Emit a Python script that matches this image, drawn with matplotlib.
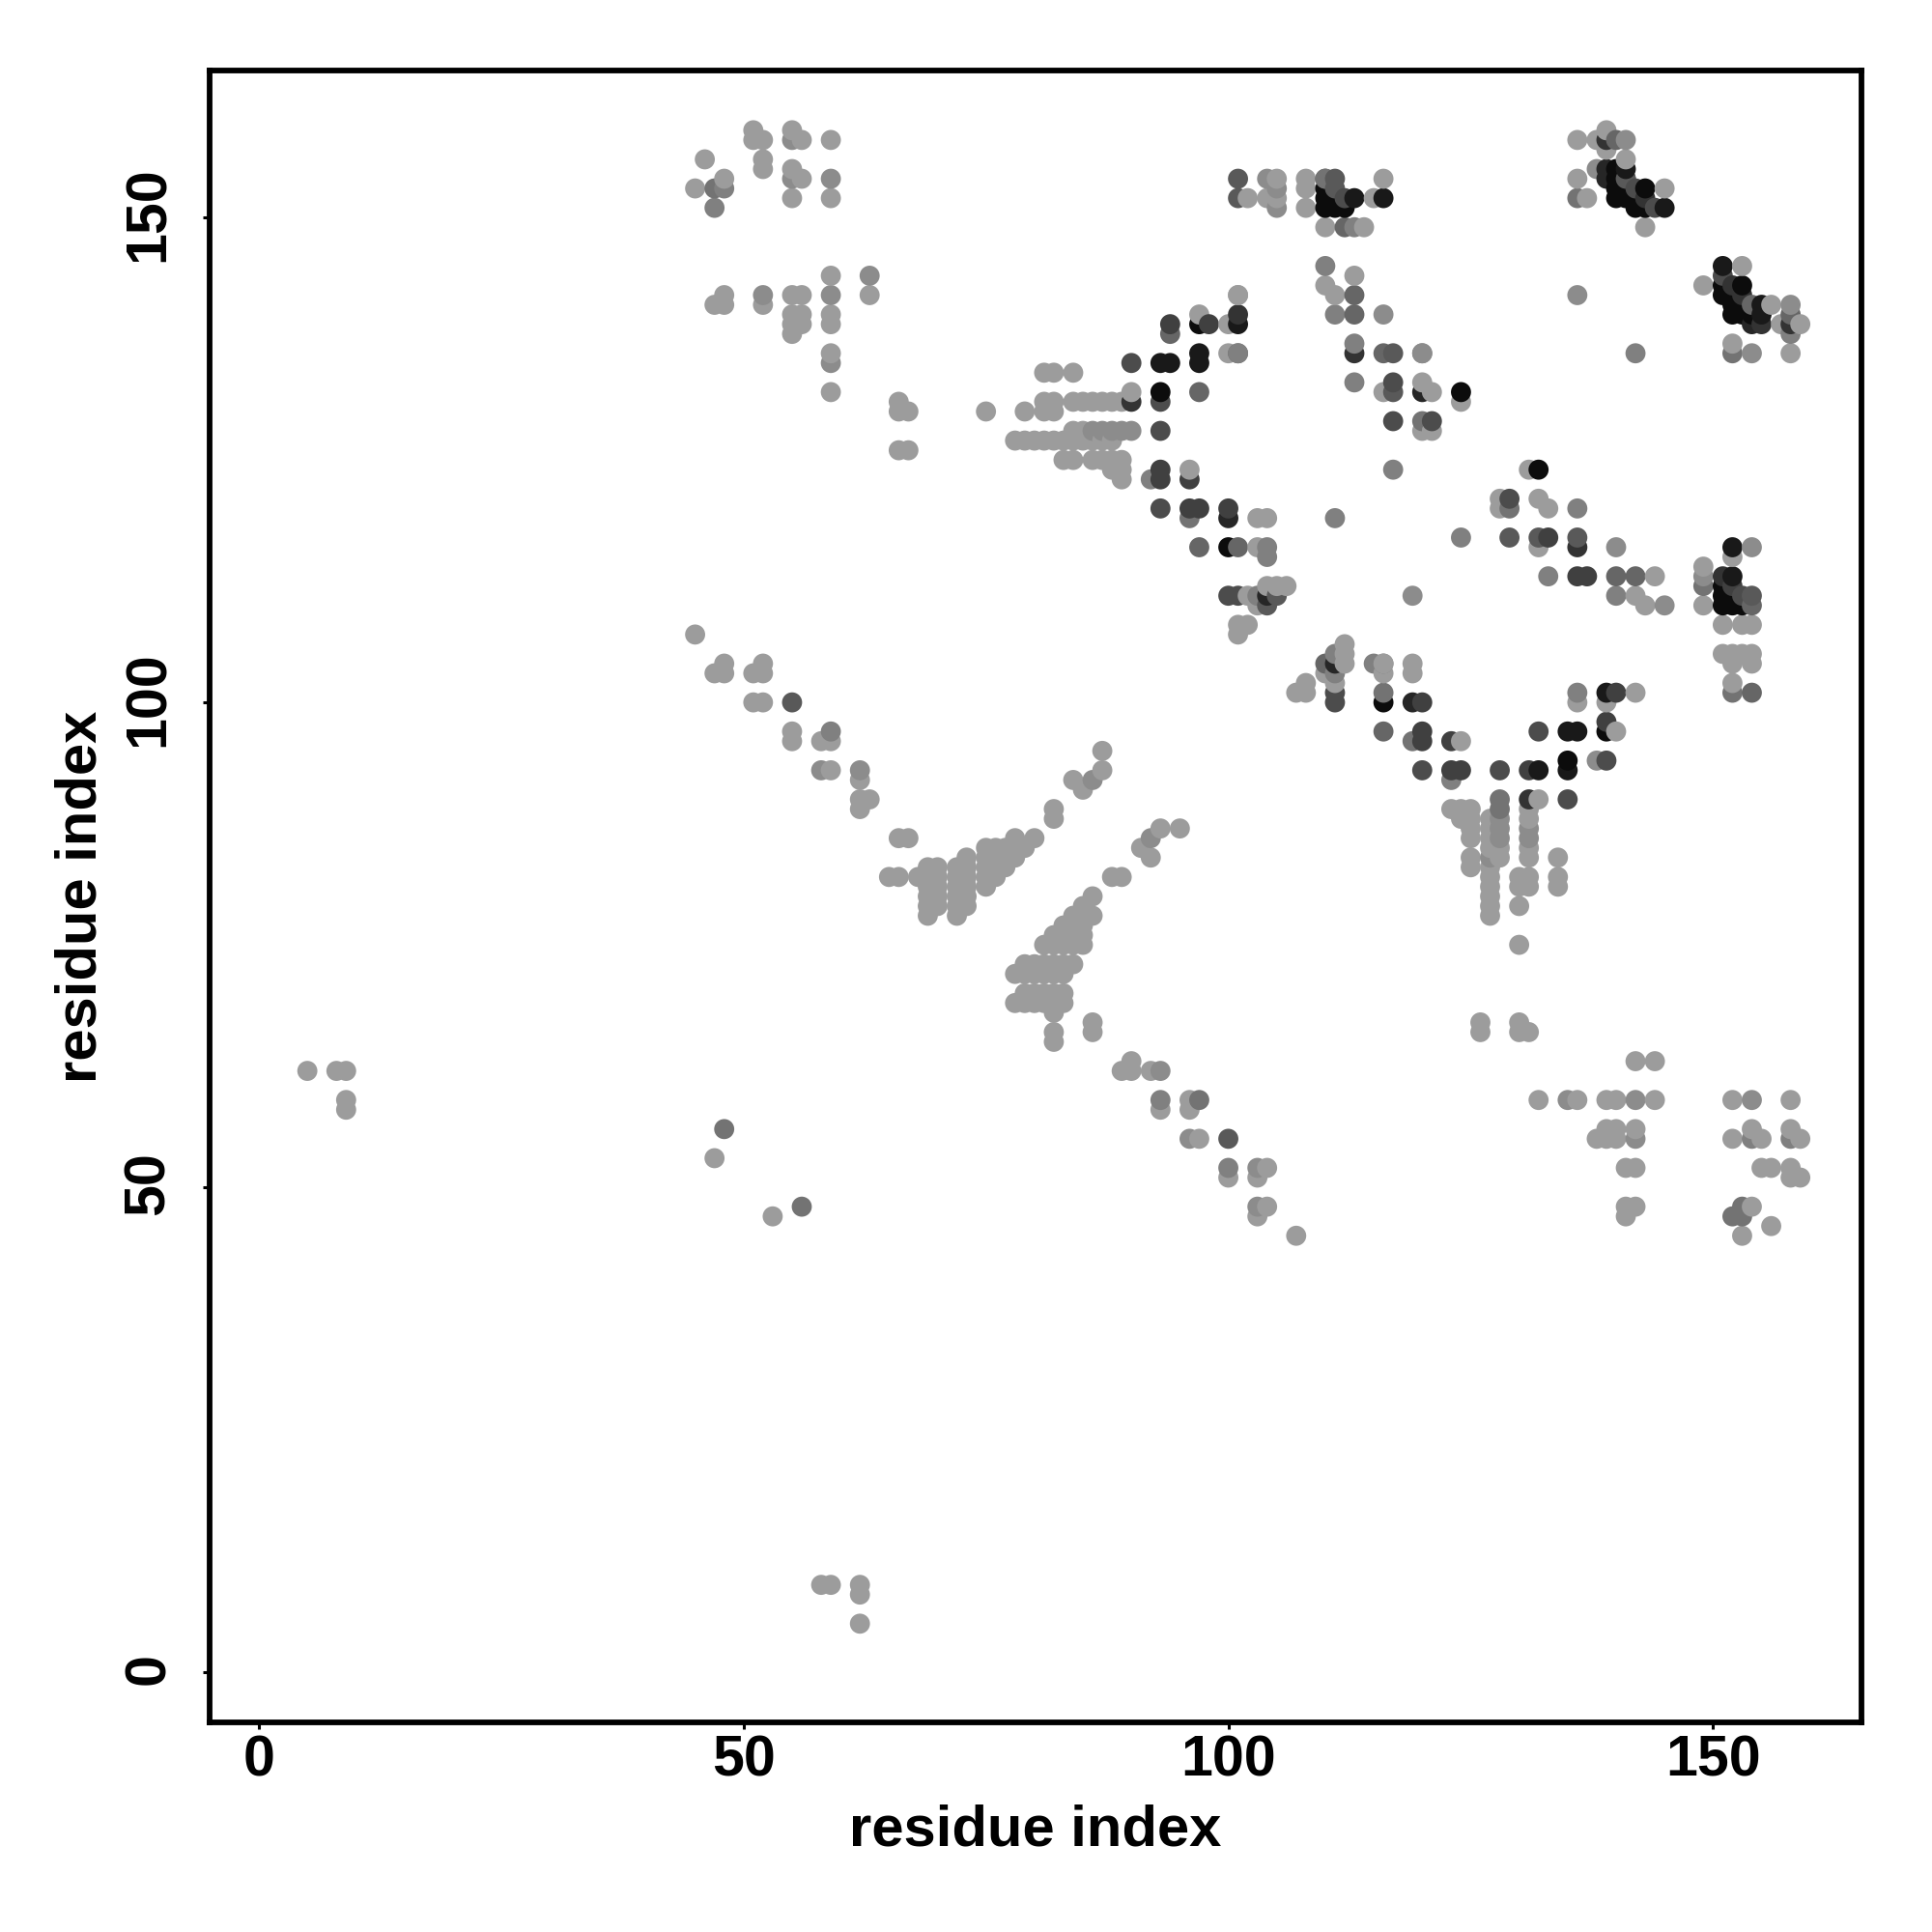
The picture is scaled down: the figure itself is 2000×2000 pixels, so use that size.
import numpy as np
import matplotlib
matplotlib.use('Agg')
import matplotlib.pyplot as plt
from matplotlib.transforms import ScaledTranslation

plt.rcParams['font.family'] = ['Liberation Sans', 'DejaVu Sans']

# contacts (residue i, residue j), grouped by grey level of the point
gray_levels = [0.05, 0.1, 0.15, 0.2, 0.25, 0.3, 0.35, 0.4, 0.45, 0.5, 0.55, 0.61]

g05 = [(110,153),(110,152),(111,152),(110,151),(111,151),(112,151),(140,155),(140,154),(140,153),(141,153),
       (143,153),(140,152),(141,152),(142,152),(142,151),(143,151),(151,143),(153,143),(151,142),(152,142),
       (152,141),(153,141),(152,140),(153,140),(154,140),(151,112),(151,111),(152,111),(151,110),(152,110),
       (153,110),(124,132),(132,124),(93,132),(100,116),(116,100),(97,139),(135,94),(139,97)]
g10 = [(93,135),(94,135),(97,136),(97,135),(101,139),(113,152),(116,152),(145,151),(141,155),(151,145),
       (155,141),(155,140),(152,116),(152,113),(132,93),(135,93),(135,97),(136,97),(139,101),(141,154)]
g15 = [(104,111),(111,104),(119,100),(100,119),(139,155),(139,154),(120,132),(154,139)]
g20 = [(90,131),(139,158),(143,152),(152,143),(153,142),(155,139),(158,139),(151,113),(136,116),(131,90),
       (113,136),(101,140)]
g25 = [(94,139),(98,139),(93,124),(93,123),(96,123),(100,120),(152,112),(133,117),(137,113),(136,113),
       (120,100),(120,97),(120,96),(123,96),(124,93),(123,93),(139,98),(140,101),(131,93),(97,120),(96,120)]
g30 = [(90,135),(93,131),(93,128),(93,120),(100,111),(101,111),(117,133),(117,129),(121,129),(129,121),
       (144,151),(151,144),(153,111),(111,101),(111,100),(120,93),(128,93),(132,97),(139,94),(135,90),
       (112,152),(142,153)]
g35 = [(105,111),(104,110),(110,154),(111,153),(111,154),(117,136),(117,132),(141,154),(129,117),(132,117),
       (136,117),(154,111),(55,100),(100,55),(101,152),(101,154)]
g40 = [(101,136),(97,116),(101,116),(140,158),(112,149),(113,142),(113,140),(154,141),(158,140),(140,113),
       (142,113),(154,110),(116,136),(116,97),(154,101),(110,104),(97,132),(94,138)]
g45 = [(96,119),(120,129),(110,154),(152,136),(136,152),(152,101),(116,101),(119,96),(47,153),(48,56),
       (56,48),(153,48),(152,47),(153,47),(97,59),(129,120),(149,112),(128,90),(128,89)]
g50 = [(92,123),(111,119),(104,116),(104,115),(103,111),(111,140),(113,149),(113,137),(113,133),(120,136),
       (101,136),(117,124),(110,145),(142,136),(136,120),(124,117),(133,113),(140,111),(158,138),(115,104),
       (116,104),(111,105),(111,103),(136,101),(123,92),(47,151),(48,153),(59,97),(93,59),(100,52),(154,55),
       (158,55)]
g55 = [(55,158),(55,154),(59,154),(52,142),(59,142),(59,135),(63,144),(116,140),(120,136),(138,155),(136,142),
       (141,158),(158,141),(140,116),(154,116),(145,110),(149,113),(119,111),(138,94),(86,92),(92,86),(93,62),
       (135,59),(142,59),(154,59),(103,52),(103,48),(96,55),(58,93),(62,93),(127,84),(128,88),(128,87),(128,86),
       (131,87),(131,86),(105,153),(104,154),(105,151),(88,128),(89,128),(90,128),(86,128),(87,128),(142,55),
       (154,136)]
g60 = [(51,159),(51,158),(52,158),(55,159),(56,158),(59,158),(46,156),(52,156),(52,155),(55,155),(56,154),
       (45,153),(48,154),(55,152),(59,152),(59,144),(48,142),(47,141),(48,141),(52,141),(55,142),(56,142),
       (63,142),(55,140),(56,140),(55,139),(56,139),(55,138),(59,140),(59,139),(59,136),(59,132),(66,131),
       (66,130),(67,130),(75,130),(79,130),(66,126),(67,126),
       (81,134),(82,134),(84,134),(90,132),(81,131),(82,131),(84,131),(85,131),(86,131),(87,131),(88,131),(89,131),
       (81,130),(82,130),(84,128),(85,128),(78,127),(79,127),(80,127),(81,127),(82,127),(83,127),(84,127),(85,127),
       (86,127),(87,127),(88,127),(83,125),(84,125),(86,125),(87,125),(88,125),(89,125),(88,124),(89,124),(89,123),
       (97,140),(100,139),(100,136),(101,142),(96,124),(103,119),(104,119),(103,116),(104,112),(105,112),(106,112),
       (102,111),(103,110),(101,108),(102,108),(101,107),
       (108,154),(108,153),(108,151),(105,154),(104,152),(105,152),(102,152),(116,154),(115,152),(110,149),(114,149),
       (113,144),(110,143),(111,142),(101,142),(116,132),(120,133),(121,132),(124,131),(131,124),(120,128),(121,128),
       (116,104),(136,158),(138,158),(139,159),(139,157),(141,156),(136,154),(145,153),(137,152),(143,149),(153,145),
       (149,143),(156,141),(157,139),(159,139),(152,137),(158,136),(128,121),(128,120),(132,121),(133,120),(152,115),
       (149,114),(144,113),(142,111),(143,110),(149,110),(151,108),(153,108),(154,108),(151,105),(152,105),(153,105),
       (154,105),(152,104),(154,104),(152,102),(112,106),(112,105),(112,104),(110,103),(111,102),(108,102),(107,101),
       (108,101),(116,103),(119,104),(119,103),(124,96),(123,89),(124,89),(125,89),(124,88),(125,88),(125,87),(125,86),
       (125,84),(125,83),(127,88),(127,87),(127,86),(127,85),(127,83),(127,82),(127,81),(127,80),(127,79),(127,78),
       (128,85),(128,84),(131,89),(131,88),(131,85),(131,84),(134,84),(130,82),(131,82),(134,82),(130,81),(131,81),
       (134,81),(130,79),(130,75),(132,90),(132,116),(136,100),(139,100),(140,97),(142,101),
       (126,67),(126,66),(130,67),(130,66),(131,66),(142,63),(144,63),(132,59),(136,59),(139,59),(140,59),(144,59),
       (152,59),(158,59),(139,56),(140,56),(142,56),(154,56),(158,56),(138,55),(139,55),(140,55),(152,55),(155,55),
       (159,55),(141,52),(142,52),(155,52),(156,52),(158,52),(158,51),(159,51),(141,48),(142,48),(154,48),(141,47),
       (156,46),(153,45),
       (87,95),(87,93),(84,92),(85,91),(82,89),(82,88),(93,87),(95,87),(91,85),(92,84),(88,82),(89,82),(86,80),(85,79),
       (84,78),(85,78),(86,78),(83,77),(84,77),(85,77),(82,76),(83,76),(84,76),(85,76),(81,75),(82,75),(83,75),(84,75),
       (85,75),(79,73),(80,73),(81,73),(82,73),(83,73),(84,73),(78,72),(79,72),(80,72),(81,72),(82,72),(83,72),
       (79,70),(80,70),(81,70),(82,70),(83,70),(78,69),(79,69),(80,69),(81,69),(82,69),(83,69),(82,68),(82,66),(82,65),
       (86,67),(86,66),(66,86),(67,86),(65,82),(66,82),(68,82),
       (69,83),(70,83),(69,82),(70,82),(69,81),(70,81),(69,80),(70,80),(69,79),(70,79),(69,78),
       (72,83),(72,82),(72,81),(72,80),(72,79),(72,78),(73,84),(73,83),(73,82),(73,81),(73,80),(73,79),
       (75,85),(75,84),(75,83),(75,82),(75,81),(76,85),(76,84),(76,83),(76,82),(77,85),(77,84),(77,83),
       (78,86),(78,85),(78,84),(79,85),(80,86),
       (45,107),(48,104),(52,104),(47,103),(48,103),(51,103),(52,103),(51,100),(52,100),(55,97),(55,96),(58,96),(59,96),
       (59,93),(62,92),(62,90),(63,90),(62,89),
       (90,63),(89,62),(90,62),(92,62),(93,58),(96,59),(97,55),(96,58),(100,51),(104,52),(103,51),(104,48),(103,47),
       (107,45),(5,62),(8,62),(9,62),(9,59),(9,58),(47,53),(53,47),(58,9),(59,9),(62,9),(62,8),(62,5)]

tick_values = [0, 50, 100, 150]
axis_label = 'residue index'

groups = [g05, g10, g15, g20, g25, g30, g35, g40, g45, g50, g55, g60]
x = np.concatenate([[p[0] for p in g] for g in groups])
y = np.concatenate([[p[1] for p in g] for g in groups])
shade = np.concatenate([[lev] * len(g) for lev, g in zip(gray_levels, groups)])

# drawn in residue order, later residues sit on top
order = np.lexsort((y, x))

fig = plt.figure(figsize=(10, 10), dpi=200)
ax = fig.add_axes([0.1084, 0.1084, 0.8553, 0.8553])
ax.scatter(x[order], y[order], c=shade[order], cmap='gray', vmin=0, vmax=1, s=56, linewidths=0)

ax.set_xlim(-5.1, 165.35)
ax.set_ylim(-5.2, 165.2)
ax.set_xticks(tick_values)
ax.set_yticks(tick_values)
ax.tick_params(axis='both', length=2.5, width=1.1, labelsize=21.3)
ax.tick_params(axis='x', pad=2)
ax.tick_params(axis='y', pad=10)
for lab in ax.get_xticklabels():
    lab.set_fontweight('bold')
nudge = ScaledTranslation(0, 1.4 / 72, fig.dpi_scale_trans)
for lab in ax.get_yticklabels():
    lab.set_fontweight('bold')
    lab.set_rotation(90)
    lab.set_va('center')
    lab.set_transform(lab.get_transform() + nudge)
for side in ax.spines.values():
    side.set_linewidth(2.1)

ax.set_xlabel(axis_label, fontsize=21.5, fontweight='bold', labelpad=6)
ax.set_ylabel(axis_label, fontsize=21.5, fontweight='bold', labelpad=5.7)

plt.savefig('out.png')
